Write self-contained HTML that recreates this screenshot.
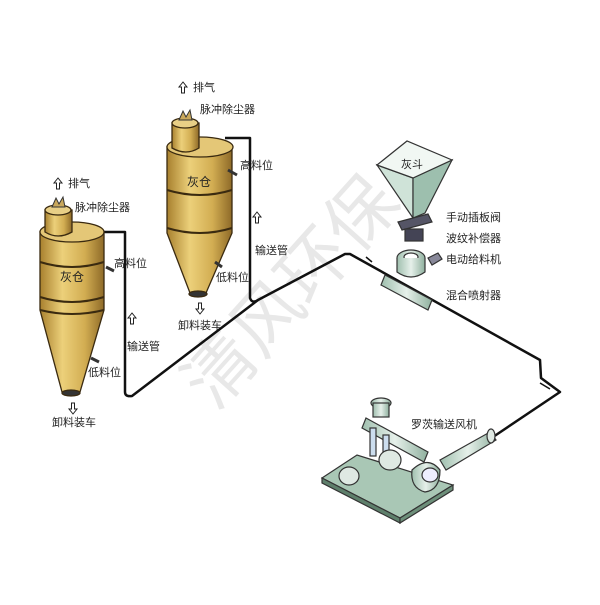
<!DOCTYPE html>
<html><head><meta charset="utf-8"><style>
body{margin:0;background:#fff}
svg text{font-family:"Liberation Sans","Noto Sans CJK SC",sans-serif;font-size:11px;fill:#222}
</style></head><body>
<svg width="600" height="600" viewBox="0 0 600 600" xmlns="http://www.w3.org/2000/svg">
<defs>
<linearGradient id="g" x1="0" x2="1">
<stop offset="0" stop-color="#a8802e"/><stop offset="0.35" stop-color="#ecd07a"/><stop offset="0.7" stop-color="#d2ad52"/><stop offset="1" stop-color="#8e6a28"/>
</linearGradient>
<linearGradient id="gg" x1="0" x2="1">
<stop offset="0" stop-color="#9fbfae"/><stop offset="0.5" stop-color="#e6f0ea"/><stop offset="1" stop-color="#8fb09e"/>
</linearGradient>
</defs>
<!-- watermark -->
<text x="0" y="0" transform="translate(215,412) rotate(-48)" style="font-size:70px;fill:#e8e8e8">清风环保</text>

<!-- pipes -->
<g fill="none" stroke="#111" stroke-width="2.5" stroke-linejoin="round">
<path d="M100,232 H125 V392 Q125,397 132,396 L258,300 L345,254 L350,254 L540,360 L541,378 L560,392 L493,437"/>
<path d="M225,138 H250 V298 Q252,304 258,300"/>
</g>
<line x1="366" y1="257" x2="372" y2="262" stroke="#111" stroke-width="1.5"/>
<line x1="540" y1="383" x2="550" y2="389" stroke="#111" stroke-width="1.5"/>

<!-- left silo -->
<g stroke="#3a2a10" stroke-width="1.3">
<path d="M40,232 V310 L62,392 H80 L104,310 V232 Z" fill="url(#g)"/>
<ellipse cx="72" cy="232" rx="32" ry="10" fill="#e4c777"/>
<path d="M45,210 V232 Q58,240 72,232 V210 Z" fill="url(#g)"/>
<ellipse cx="58" cy="210" rx="13" ry="5" fill="#e8cf86"/>
<path d="M40,262 Q72,272 104,262 M40,297 Q72,307 104,297 M40,310 Q72,318 104,310" fill="none" stroke-width="2"/>
<ellipse cx="71" cy="393" rx="9" ry="3" fill="#333"/>
</g>
<path d="M52,207 l4,-9 3,6 4,-7 2,10z" fill="#c9a85c" stroke="#333"/>
<line x1="91" y1="358" x2="99" y2="362" stroke="#333" stroke-width="3"/>
<line x1="106" y1="267" x2="114" y2="271" stroke="#333" stroke-width="3"/>
<!-- right silo -->
<g stroke="#3a2a10" stroke-width="1.3">
<path d="M167,147 V233 L190,293 H206 L232,233 V147 Z" fill="url(#g)"/>
<ellipse cx="200" cy="147" rx="33" ry="10" fill="#e4c777"/>
<path d="M172,123 V148 Q186,156 199,148 V123 Z" fill="url(#g)"/>
<ellipse cx="185" cy="123" rx="13" ry="5" fill="#e8cf86"/>
<path d="M167,190 Q200,200 232,190 M167,228 Q200,238 232,228" fill="none" stroke-width="2"/>
<ellipse cx="198" cy="294" rx="9" ry="3" fill="#333"/>
</g>
<path d="M179,120 l4,-9 3,6 4,-7 2,10z" fill="#c9a85c" stroke="#333"/>
<line x1="228" y1="170" x2="237" y2="175" stroke="#333" stroke-width="3"/>
<line x1="215" y1="262" x2="222" y2="267" stroke="#333" stroke-width="3"/>

<!-- arrows -->
<g fill="#fff" stroke="#222" stroke-width="1">
<path d="M58,178 l-4,5 h2.5 v6 h3 v-6 h2.5z"/>
<path d="M183,82 l-4,5 h2.5 v6 h3 v-6 h2.5z"/>
<path d="M132,313 l-4,5 h2.5 v6 h3 v-6 h2.5z"/>
<path d="M257,212 l-4,5 h2.5 v6 h3 v-6 h2.5z"/>
<path d="M73,414 l-4,-5 h2.5 v-6 h3 v6 h2.5z"/>
<path d="M200,314 l-4,-5 h2.5 v-6 h3 v6 h2.5z"/>
</g>

<!-- hopper -->
<g stroke="#333" stroke-width="1.2">
<path d="M377,165 L413,178 L413,218 Z" fill="#cfe3d8"/>
<path d="M413,178 L452,160 L425,213 L413,218 Z" fill="#9dbfae"/>
<path d="M377,165 L407,141 L452,160 L413,178 Z" fill="#f1f7f3"/>
<path d="M398,222 L428,214 L432,222 L402,230 Z" fill="#556"/>
<rect x="405" y="229" width="18" height="12" fill="#445"/>
<ellipse cx="411" cy="258" rx="14" ry="8" fill="url(#gg)"/>
<ellipse cx="411" cy="257" rx="7" ry="4" fill="#fff"/>
<path d="M397,258 V272 Q411,282 425,272 V258" fill="url(#gg)"/>
<path d="M428,258 l10,-5 4,6 -10,6z" fill="#889"/>
<path d="M385,275 L432,300 L428,310 L381,285 Z" fill="url(#gg)"/>
</g>

<!-- blower -->
<g stroke="#333" stroke-width="1.2">
<path d="M322,478 L357,455 L453,485 L400,518 Z" fill="#a9c7b5"/>
<path d="M322,478 L400,518 L400,523 L322,483 Z" fill="#5e7f6b"/>
<path d="M400,518 L453,485 L453,490 L400,523 Z" fill="#6d8f7a"/>
<ellipse cx="381" cy="403" rx="10" ry="5" fill="url(#gg)"/>
<rect x="373" y="403" width="16" height="14" fill="url(#gg)"/>
<path d="M366,418 L428,452 L424,462 L362,428 Z" fill="url(#gg)"/>
<rect x="370" y="428" width="6" height="28" fill="#cde"/>
<rect x="383" y="435" width="6" height="30" fill="#cde"/>
<ellipse cx="349" cy="476" rx="10" ry="9" fill="#dfe9e3"/>
<ellipse cx="390" cy="460" rx="11" ry="10" fill="#dfe9e3"/>
<path d="M412,470 Q428,455 440,470 Q440,490 425,492 Q410,488 412,470Z" fill="url(#gg)"/>
<ellipse cx="430" cy="475" rx="8" ry="7" fill="#eef"/>
<path d="M440,460 L490,432 L496,440 L446,470 Z" fill="url(#gg)"/>
<ellipse cx="491" cy="436" rx="4" ry="7" fill="#dfe9e3"/>
</g>

<!-- labels -->
<text x="68" y="187">排气</text>
<text x="75" y="211">脉冲除尘器</text>
<text x="60" y="281" style="font-size:12px">灰仓</text>
<text x="114" y="267">高料位</text>
<text x="88" y="376">低料位</text>
<text x="127" y="350">输送管</text>
<text x="52" y="426">卸料装车</text>
<text x="193" y="91">排气</text>
<text x="200" y="113">脉冲除尘器</text>
<text x="187" y="186" style="font-size:12px">灰仓</text>
<text x="240" y="169">高料位</text>
<text x="216" y="281">低料位</text>
<text x="255" y="254">输送管</text>
<text x="178" y="329">卸料装车</text>
<text x="401" y="168">灰斗</text>
<text x="446" y="221">手动插板阀</text>
<text x="446" y="242">波纹补偿器</text>
<text x="446" y="263">电动给料机</text>
<text x="446" y="299">混合喷射器</text>
<text x="411" y="428">罗茨输送风机</text>
</svg>
</body></html>
